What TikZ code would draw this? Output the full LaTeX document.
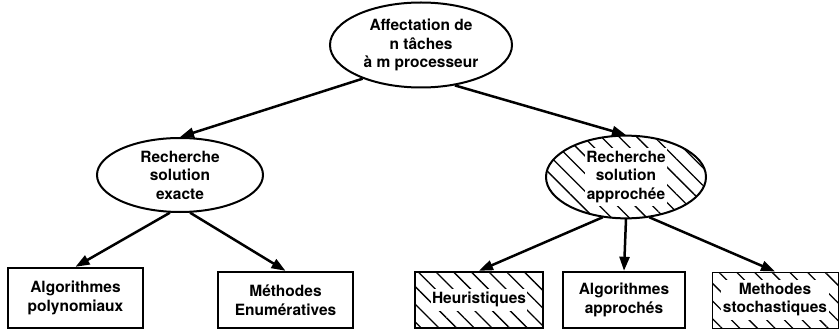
\documentclass[tikz,border=0pt]{standalone}
\usepackage{fontspec}
\setmainfont{TeX Gyre Heros}
\usetikzlibrary{arrows.meta,positioning,shapes.geometric,patterns.meta}

\tikzset{
  oval/.style={ellipse, draw, line width=2pt, inner sep=0pt, align=center},
  leaf/.style={rectangle, draw, line width=2.4pt, inner sep=0pt, align=center},
  hatch/.style={pattern={Lines[angle=-45,distance=12.5pt,line width=1.3pt]}},
  link/.style={line width=2.5pt, -{Triangle[length=14pt,width=10pt]}},
}
\newcommand{\onwhite}[1]{{\setlength{\fboxsep}{1.5pt}\colorbox{white}{\begin{tabular}{@{}c@{}}#1\end{tabular}}}}

\begin{document}
\begin{tikzpicture}[x=1pt,y=-1pt,font=\fontsize{15.5}{18.5}\selectfont\bfseries]
  \useasboundingbox (0,0) rectangle (840,331);
  % Define nodes
  \node[oval, minimum width=182pt, minimum height=85pt] (root) at (421,45) {Affectation de\\n tâches\\à m processeur};
  \node[oval, minimum width=166pt, minimum height=74pt] (exact) at (180,175) {Recherche\\solution\\exacte};
  \node[oval, hatch, minimum width=160pt, minimum height=67pt] (approx) at (626,177) {\onwhite{Recherche\\solution\\approchée}};

  \node[leaf, minimum width=135pt, minimum height=60pt] (poly) at (75.5,298) {Algorithmes\\polynomiaux};
  \node[leaf, minimum width=135pt, minimum height=56pt] (enum) at (285.5,300) {Méthodes\\Enumératives};
  \node[leaf, hatch, minimum width=128pt, minimum height=56pt] (heur) at (479,300) {\onwhite{Heuristiques}};
  \node[leaf, minimum width=122pt, minimum height=56pt] (algo) at (624,300) {Algorithmes\\approchés};
  \node[leaf, hatch, line width=1pt, minimum width=126pt, minimum height=56pt] (stoch) at (775,300) {\onwhite{Methodes\\stochastiques}};

  % Draw edges
  \draw[link] (root.210) -- (exact.north);
  \draw[link] (root.310) -- (approx.north);
  \draw[link] (exact.255) -- (poly.north);
  \draw[link] (exact.285) -- (enum.north);
  \draw[link] (approx.240) -- (heur.north);
  \draw[link] (approx.south) -- (algo.north);
  \draw[link] (approx.300) -- (stoch.north);
\end{tikzpicture}
\end{document}
